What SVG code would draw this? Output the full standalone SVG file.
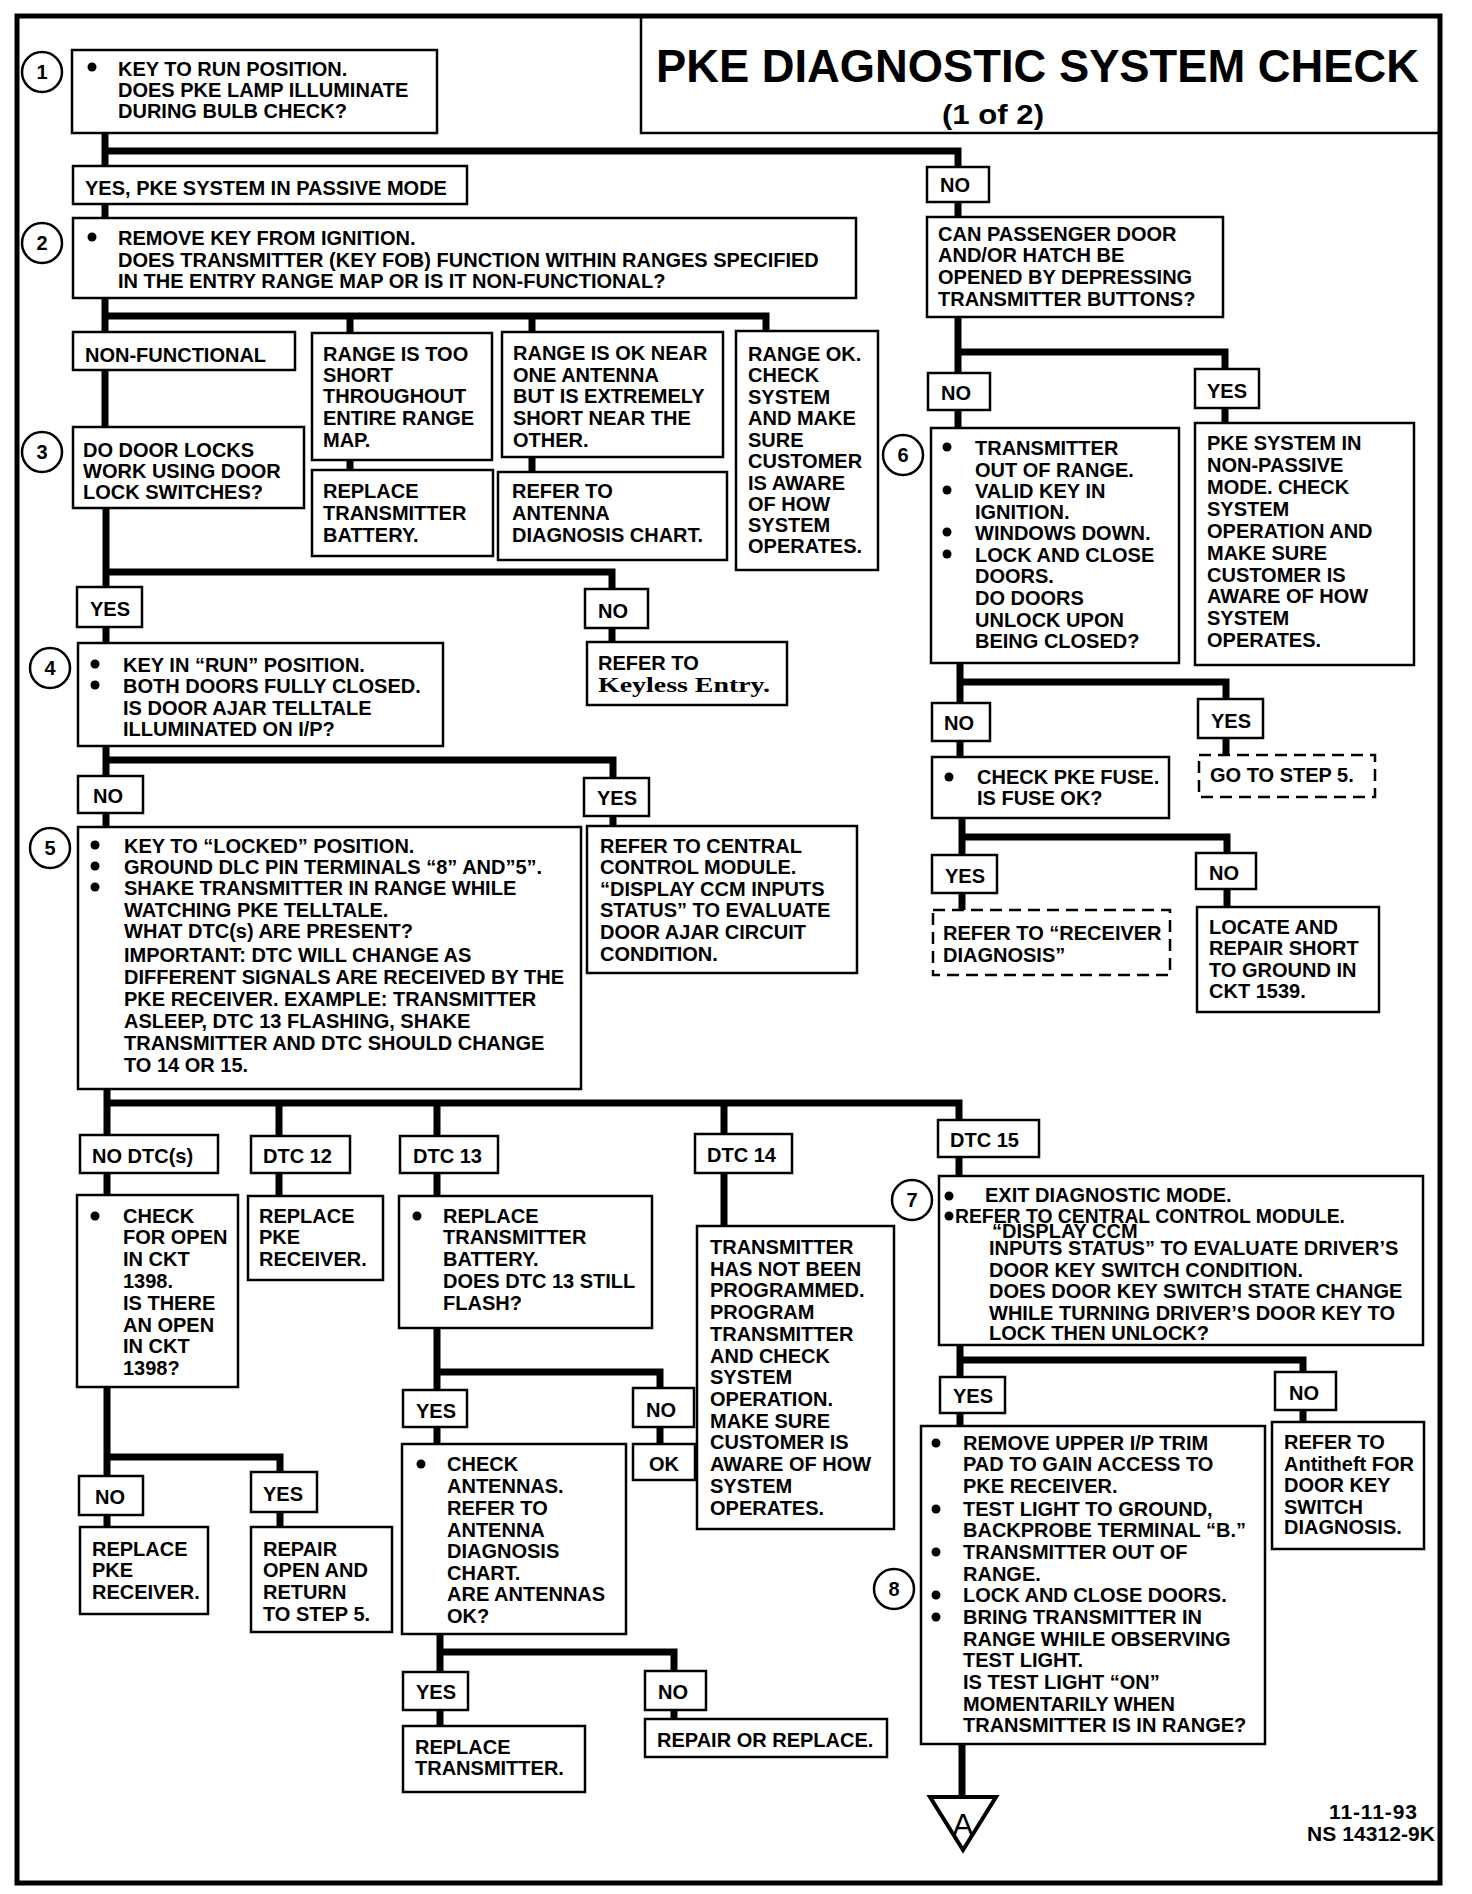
<svg xmlns="http://www.w3.org/2000/svg" width="1472" height="1894" viewBox="0 0 1472 1894">
<style>
.b{fill:#fff;stroke:#000;stroke-width:2.5}
.d{fill:#fff;stroke:#000;stroke-width:2.5;stroke-dasharray:12 7}
.c{fill:none;stroke:#000;stroke-width:7;stroke-linejoin:miter;stroke-linecap:butt}
.t{font-family:"Liberation Sans",Arial,sans-serif;font-weight:bold;font-size:20px;fill:#000}
.s{font-family:"Liberation Serif","Times New Roman",serif;font-weight:bold;font-size:22px;fill:#000}
.n{font-family:"Liberation Sans",Arial,sans-serif;font-weight:bold;font-size:20px;fill:#000;text-anchor:middle}
.o{fill:#fff;stroke:#000;stroke-width:2.5}
.u{fill:#000}
</style>
<rect x="0" y="0" width="1472" height="1894" fill="#fff"/>
<rect x="17" y="16" width="1423" height="1867" fill="none" stroke="#000" stroke-width="5"/>
<g id="title">
<path d="M641,16 V133 H1440" fill="none" stroke="#000" stroke-width="2.5"/>
<text class="t" x="656" y="82" style="font-size:47px" textLength="763" lengthAdjust="spacingAndGlyphs">PKE DIAGNOSTIC SYSTEM CHECK</text>
<text class="t" x="942" y="124" style="font-size:28px" textLength="102" lengthAdjust="spacingAndGlyphs">(1 of 2)</text>
</g>
<g id="connectors">
<path class="c" d="M105,133 V166 M105,151 H958 V167 M105,204 V218 M105,298 V332 M105,316 H766 V331 M350,316 V333 M532,316 V332 M105,370 V427 M350,460 V470 M532,457 V472 M106,508 V587 M106,572 H612 V589 M106,627 V643 M612,628 V642 M106,746 V776 M106,760 H613 V778 M106,813 V827 M613,816 V826 M107,1089 V1135 M107,1103 H959 V1120 M279,1103 V1136 M437,1103 V1136 M724,1103 V1134 M107,1173 V1195 M279,1173 V1196 M437,1173 V1196 M724,1173 V1226 M959,1157 V1176 M107,1387 V1476 M107,1457 H280 V1472 M107,1515 V1527 M280,1512 V1527 M437,1328 V1390 M437,1372 H660 V1388 M437,1427 V1444 M660,1427 V1444 M440,1634 V1672 M440,1652 H674 V1671 M440,1710 V1726 M674,1710 V1719 M960,1345 V1377 M960,1360 H1303 V1372 M960,1413 V1426 M1303,1410 V1422 M962,1744 V1797 M958,202 V217 M958,317 V373 M958,352 H1225 V369 M958,410 V428 M1225,408 V423 M960,663 V703 M960,682 H1226 V699 M960,741 V757 M1226,738 V755 M962,818 V855 M962,837 H1227 V853 M962,893 V910 M1227,889 V907"/>
</g>
<g id="n1"><circle class="o" cx="42" cy="72" r="20"/><text class="n" x="42" y="79">1</text>
<rect class="b" x="72" y="50" width="365" height="83"/><circle class="u" cx="92" cy="67" r="4.5"/>
<text class="t"><tspan x="118" y="76">KEY TO RUN POSITION.</tspan><tspan x="118" y="97">DOES PKE LAMP ILLUMINATE</tspan><tspan x="118" y="118">DURING BULB CHECK?</tspan></text></g>
<g id="yes-passive"><rect class="b" x="73" y="166" width="394" height="38"/><text class="t" x="85" y="195">YES, PKE SYSTEM IN PASSIVE MODE</text></g>
<g id="no1"><rect class="b" x="927" y="167" width="62" height="35"/><text class="t" x="940" y="192">NO</text></g>
<g id="n2"><circle class="o" cx="42" cy="243" r="20"/><text class="n" x="42" y="250">2</text>
<rect class="b" x="73" y="218" width="783" height="80"/><circle class="u" cx="92" cy="237" r="4.5"/>
<text class="t"><tspan x="118" y="245">REMOVE KEY FROM IGNITION.</tspan><tspan x="118" y="267">DOES TRANSMITTER (KEY FOB) FUNCTION WITHIN RANGES SPECIFIED</tspan><tspan x="118" y="288">IN THE ENTRY RANGE MAP OR IS IT NON-FUNCTIONAL?</tspan></text></g>
<g id="can-open"><rect class="b" x="927" y="217" width="296" height="100"/>
<text class="t"><tspan x="938" y="241">CAN PASSENGER DOOR</tspan><tspan x="938" y="262">AND/OR HATCH BE</tspan><tspan x="938" y="284">OPENED BY DEPRESSING</tspan><tspan x="938" y="306">TRANSMITTER BUTTONS?</tspan></text></g>
<g id="non-functional"><rect class="b" x="73" y="332" width="222" height="38"/><text class="t" x="85" y="362">NON-FUNCTIONAL</text></g>
<g id="range-short"><rect class="b" x="312" y="333" width="180" height="127"/>
<text class="t"><tspan x="323" y="361">RANGE IS TOO</tspan><tspan x="323" y="382">SHORT</tspan><tspan x="323" y="403">THROUGHOUT</tspan><tspan x="323" y="425">ENTIRE RANGE</tspan><tspan x="323" y="447">MAP.</tspan></text></g>
<g id="range-near"><rect class="b" x="502" y="332" width="221" height="125"/>
<text class="t"><tspan x="513" y="360">RANGE IS OK NEAR</tspan><tspan x="513" y="382">ONE ANTENNA</tspan><tspan x="513" y="403">BUT IS EXTREMELY</tspan><tspan x="513" y="425">SHORT NEAR THE</tspan><tspan x="513" y="447">OTHER.</tspan></text></g>
<g id="range-ok"><rect class="b" x="736" y="331" width="142" height="239"/>
<text class="t"><tspan x="748" y="361">RANGE OK.</tspan><tspan x="748" y="382">CHECK</tspan><tspan x="748" y="404">SYSTEM</tspan><tspan x="748" y="425">AND MAKE</tspan><tspan x="748" y="447">SURE</tspan><tspan x="748" y="468">CUSTOMER</tspan><tspan x="748" y="490">IS AWARE</tspan><tspan x="748" y="511">OF HOW</tspan><tspan x="748" y="532">SYSTEM</tspan><tspan x="748" y="553">OPERATES.</tspan></text></g>
<g id="no2"><rect class="b" x="928" y="373" width="62" height="37"/><text class="t" x="941" y="400">NO</text></g>
<g id="yes2"><rect class="b" x="1195" y="369" width="64" height="39"/><text class="t" x="1207" y="398">YES</text></g>
<g id="n6"><circle class="o" cx="903" cy="455" r="20"/><text class="n" x="903" y="462">6</text>
<rect class="b" x="931" y="428" width="248" height="235"/>
<circle class="u" cx="947" cy="447" r="4.5"/><circle class="u" cx="947" cy="490" r="4.5"/><circle class="u" cx="947" cy="532" r="4.5"/><circle class="u" cx="947" cy="554" r="4.5"/>
<text class="t"><tspan x="975" y="455">TRANSMITTER</tspan><tspan x="975" y="477">OUT OF RANGE.</tspan><tspan x="975" y="498">VALID KEY IN</tspan><tspan x="975" y="519">IGNITION.</tspan><tspan x="975" y="540">WINDOWS DOWN.</tspan><tspan x="975" y="562">LOCK AND CLOSE</tspan><tspan x="975" y="583">DOORS.</tspan><tspan x="975" y="605">DO DOORS</tspan><tspan x="975" y="627">UNLOCK UPON</tspan><tspan x="975" y="648">BEING CLOSED?</tspan></text></g>
<g id="non-passive"><rect class="b" x="1195" y="423" width="219" height="242"/>
<text class="t"><tspan x="1207" y="450">PKE SYSTEM IN</tspan><tspan x="1207" y="472">NON-PASSIVE</tspan><tspan x="1207" y="494">MODE.  CHECK</tspan><tspan x="1207" y="516">SYSTEM</tspan><tspan x="1207" y="538">OPERATION AND</tspan><tspan x="1207" y="560">MAKE SURE</tspan><tspan x="1207" y="582">CUSTOMER IS</tspan><tspan x="1207" y="603">AWARE OF HOW</tspan><tspan x="1207" y="625">SYSTEM</tspan><tspan x="1207" y="647">OPERATES.</tspan></text></g>
<g id="n3"><circle class="o" cx="42" cy="452" r="20"/><text class="n" x="42" y="459">3</text>
<rect class="b" x="73" y="427" width="231" height="81"/>
<text class="t"><tspan x="83" y="457">DO DOOR LOCKS</tspan><tspan x="83" y="478">WORK USING DOOR</tspan><tspan x="83" y="499">LOCK SWITCHES?</tspan></text></g>
<g id="replace-battery"><rect class="b" x="312" y="470" width="181" height="86"/>
<text class="t"><tspan x="323" y="498">REPLACE</tspan><tspan x="323" y="520">TRANSMITTER</tspan><tspan x="323" y="542">BATTERY.</tspan></text></g>
<g id="antenna-chart"><rect class="b" x="498" y="472" width="229" height="88"/>
<text class="t"><tspan x="512" y="498">REFER TO</tspan><tspan x="512" y="520">ANTENNA</tspan><tspan x="512" y="542">DIAGNOSIS CHART.</tspan></text></g>
<g id="yes3"><rect class="b" x="77" y="587" width="65" height="40"/><text class="t" x="90" y="616">YES</text></g>
<g id="no3"><rect class="b" x="585" y="589" width="63" height="39"/><text class="t" x="598" y="618">NO</text></g>
<g id="keyless"><rect class="b" x="587" y="642" width="200" height="63"/>
<text class="t" x="598" y="670">REFER TO</text><text class="s" x="598" y="692" textLength="172" lengthAdjust="spacingAndGlyphs">Keyless  Entry.</text></g>
<g id="n4"><circle class="o" cx="50" cy="668" r="20"/><text class="n" x="50" y="675">4</text>
<rect class="b" x="78" y="643" width="365" height="103"/>
<circle class="u" cx="95" cy="664" r="4.5"/><circle class="u" cx="95" cy="685" r="4.5"/>
<text class="t"><tspan x="123" y="672">KEY IN “RUN” POSITION.</tspan><tspan x="123" y="693">BOTH DOORS FULLY CLOSED.</tspan><tspan x="123" y="715">IS DOOR AJAR TELLTALE</tspan><tspan x="123" y="736">ILLUMINATED ON I/P?</tspan></text></g>
<g id="no4"><rect class="b" x="78" y="776" width="65" height="37"/><text class="t" x="93" y="803">NO</text></g>
<g id="yes4"><rect class="b" x="584" y="778" width="65" height="38"/><text class="t" x="597" y="805">YES</text></g>
<g id="ccm"><rect class="b" x="587" y="826" width="270" height="147"/>
<text class="t"><tspan x="600" y="853">REFER TO CENTRAL</tspan><tspan x="600" y="874">CONTROL MODULE.</tspan><tspan x="600" y="896">“DISPLAY CCM INPUTS</tspan><tspan x="600" y="917">STATUS” TO EVALUATE</tspan><tspan x="600" y="939">DOOR AJAR CIRCUIT</tspan><tspan x="600" y="961">CONDITION.</tspan></text></g>
<g id="n5"><circle class="o" cx="50" cy="848" r="20"/><text class="n" x="50" y="855">5</text>
<rect class="b" x="78" y="827" width="503" height="262"/>
<circle class="u" cx="95" cy="845" r="4.5"/><circle class="u" cx="95" cy="866" r="4.5"/><circle class="u" cx="95" cy="887" r="4.5"/>
<text class="t"><tspan x="124" y="853">KEY TO “LOCKED” POSITION.</tspan><tspan x="124" y="874">GROUND DLC PIN TERMINALS “8” AND”5”.</tspan><tspan x="124" y="895">SHAKE TRANSMITTER IN RANGE WHILE</tspan><tspan x="124" y="917">WATCHING PKE TELLTALE.</tspan><tspan x="124" y="938">WHAT DTC(s) ARE PRESENT?</tspan><tspan x="124" y="962">IMPORTANT:  DTC WILL CHANGE AS</tspan><tspan x="124" y="984">DIFFERENT SIGNALS ARE RECEIVED BY THE</tspan><tspan x="124" y="1006">PKE RECEIVER.  EXAMPLE:  TRANSMITTER</tspan><tspan x="124" y="1028">ASLEEP, DTC 13 FLASHING, SHAKE</tspan><tspan x="124" y="1050">TRANSMITTER AND DTC SHOULD CHANGE</tspan><tspan x="124" y="1072">TO 14 OR 15.</tspan></text></g>
<g id="no-dtc"><rect class="b" x="80" y="1135" width="138" height="38"/><text class="t" x="92" y="1163">NO DTC(s)</text></g>
<g id="dtc12"><rect class="b" x="251" y="1136" width="99" height="37"/><text class="t" x="263" y="1163">DTC 12</text></g>
<g id="dtc13"><rect class="b" x="400" y="1136" width="98" height="37"/><text class="t" x="413" y="1163">DTC 13</text></g>
<g id="dtc14"><rect class="b" x="695" y="1134" width="97" height="39"/><text class="t" x="707" y="1162">DTC 14</text></g>
<g id="dtc15"><rect class="b" x="938" y="1120" width="101" height="37"/><text class="t" x="950" y="1147">DTC 15</text></g>
<g id="check-open"><rect class="b" x="77" y="1195" width="161" height="192"/><circle class="u" cx="95" cy="1216" r="4.5"/>
<text class="t"><tspan x="123" y="1223">CHECK</tspan><tspan x="123" y="1244">FOR OPEN</tspan><tspan x="123" y="1266">IN CKT</tspan><tspan x="123" y="1288">1398.</tspan><tspan x="123" y="1310">IS THERE</tspan><tspan x="123" y="1332">AN OPEN</tspan><tspan x="123" y="1353">IN CKT</tspan><tspan x="123" y="1375">1398?</tspan></text></g>
<g id="replace-receiver"><rect class="b" x="248" y="1196" width="135" height="84"/>
<text class="t"><tspan x="259" y="1223">REPLACE</tspan><tspan x="259" y="1244">PKE</tspan><tspan x="259" y="1266">RECEIVER.</tspan></text></g>
<g id="replace-battery2"><rect class="b" x="399" y="1196" width="253" height="132"/><circle class="u" cx="417" cy="1216" r="4.5"/>
<text class="t"><tspan x="443" y="1223">REPLACE</tspan><tspan x="443" y="1244">TRANSMITTER</tspan><tspan x="443" y="1266">BATTERY.</tspan><tspan x="443" y="1288">DOES DTC 13 STILL</tspan><tspan x="443" y="1310">FLASH?</tspan></text></g>
<g id="not-programmed"><rect class="b" x="697" y="1226" width="197" height="303"/>
<text class="t"><tspan x="710" y="1254">TRANSMITTER</tspan><tspan x="710" y="1276">HAS NOT BEEN</tspan><tspan x="710" y="1297">PROGRAMMED.</tspan><tspan x="710" y="1319">PROGRAM</tspan><tspan x="710" y="1341">TRANSMITTER</tspan><tspan x="710" y="1363">AND CHECK</tspan><tspan x="710" y="1384">SYSTEM</tspan><tspan x="710" y="1406">OPERATION.</tspan><tspan x="710" y="1428">MAKE SURE</tspan><tspan x="710" y="1449">CUSTOMER IS</tspan><tspan x="710" y="1471">AWARE OF HOW</tspan><tspan x="710" y="1493">SYSTEM</tspan><tspan x="710" y="1515">OPERATES.</tspan></text></g>
<g id="n7"><circle class="o" cx="912" cy="1200" r="20"/><text class="n" x="912" y="1207">7</text>
<rect class="b" x="939" y="1176" width="484" height="169"/>
<circle class="u" cx="949" cy="1196" r="4.5"/><circle class="u" cx="949" cy="1216" r="4.5"/>
<text class="t"><tspan x="985" y="1202">EXIT DIAGNOSTIC MODE.</tspan></text>
<text class="t" x="955" y="1223" textLength="390" lengthAdjust="spacingAndGlyphs">REFER TO CENTRAL CONTROL MODULE.</text>
<text class="t"><tspan x="992" y="1238">“DISPLAY CCM</tspan><tspan x="989" y="1255">INPUTS STATUS” TO EVALUATE DRIVER’S</tspan><tspan x="989" y="1277">DOOR KEY SWITCH CONDITION.</tspan><tspan x="989" y="1298">DOES DOOR KEY SWITCH STATE CHANGE</tspan><tspan x="989" y="1320">WHILE TURNING DRIVER’S DOOR KEY TO</tspan><tspan x="989" y="1340">LOCK THEN UNLOCK?</tspan></text></g>
<g id="yes7"><rect class="b" x="940" y="1377" width="65" height="36"/><text class="t" x="953" y="1403">YES</text></g>
<g id="no7"><rect class="b" x="1275" y="1372" width="61" height="38"/><text class="t" x="1289" y="1400">NO</text></g>
<g id="antitheft"><rect class="b" x="1272" y="1422" width="152" height="127"/>
<text class="t"><tspan x="1284" y="1449">REFER TO</tspan><tspan x="1284" y="1471">Antitheft  FOR</tspan><tspan x="1284" y="1492">DOOR KEY</tspan><tspan x="1284" y="1514">SWITCH</tspan><tspan x="1284" y="1534">DIAGNOSIS.</tspan></text></g>
<g id="n8"><circle class="o" cx="894" cy="1589" r="20"/><text class="n" x="894" y="1596">8</text>
<rect class="b" x="921" y="1426" width="344" height="318"/>
<circle class="u" cx="936" cy="1443" r="4.5"/><circle class="u" cx="936" cy="1509" r="4.5"/><circle class="u" cx="936" cy="1552" r="4.5"/><circle class="u" cx="936" cy="1595" r="4.5"/><circle class="u" cx="936" cy="1617" r="4.5"/>
<text class="t"><tspan x="963" y="1450">REMOVE UPPER I/P TRIM</tspan><tspan x="963" y="1471">PAD TO GAIN ACCESS TO</tspan><tspan x="963" y="1493">PKE RECEIVER.</tspan><tspan x="963" y="1516">TEST LIGHT TO GROUND,</tspan><tspan x="963" y="1537">BACKPROBE TERMINAL “B.”</tspan><tspan x="963" y="1559">TRANSMITTER OUT OF</tspan><tspan x="963" y="1581">RANGE.</tspan><tspan x="963" y="1602">LOCK AND CLOSE DOORS.</tspan><tspan x="963" y="1624">BRING TRANSMITTER IN</tspan><tspan x="963" y="1646">RANGE WHILE OBSERVING</tspan><tspan x="963" y="1667">TEST LIGHT.</tspan><tspan x="963" y="1689">IS TEST LIGHT “ON”</tspan><tspan x="963" y="1711">MOMENTARILY WHEN</tspan><tspan x="963" y="1732">TRANSMITTER IS IN RANGE?</tspan></text></g>
<g id="yes13"><rect class="b" x="403" y="1390" width="64" height="37"/><text class="t" x="416" y="1418">YES</text></g>
<g id="no13"><rect class="b" x="633" y="1388" width="61" height="39"/><text class="t" x="646" y="1417">NO</text></g>
<g id="ok"><rect class="b" x="633" y="1444" width="62" height="36"/><text class="t" x="649" y="1471">OK</text></g>
<g id="antennas"><rect class="b" x="402" y="1444" width="224" height="190"/><circle class="u" cx="421" cy="1464" r="4.5"/>
<text class="t"><tspan x="447" y="1471">CHECK</tspan><tspan x="447" y="1493">ANTENNAS.</tspan><tspan x="447" y="1515">REFER TO</tspan><tspan x="447" y="1537">ANTENNA</tspan><tspan x="447" y="1558">DIAGNOSIS</tspan><tspan x="447" y="1580">CHART.</tspan><tspan x="447" y="1601">ARE ANTENNAS</tspan><tspan x="447" y="1623">OK?</tspan></text></g>
<g id="yes-ant"><rect class="b" x="403" y="1672" width="65" height="38"/><text class="t" x="416" y="1699">YES</text></g>
<g id="no-ant"><rect class="b" x="645" y="1671" width="61" height="39"/><text class="t" x="658" y="1699">NO</text></g>
<g id="replace-transmitter"><rect class="b" x="403" y="1726" width="182" height="66"/>
<text class="t"><tspan x="415" y="1754">REPLACE</tspan><tspan x="415" y="1775">TRANSMITTER.</tspan></text></g>
<g id="repair-replace"><rect class="b" x="645" y="1719" width="242" height="38"/><text class="t" x="657" y="1747">REPAIR OR REPLACE.</text></g>
<g id="no-open"><rect class="b" x="79" y="1476" width="64" height="39"/><text class="t" x="95" y="1504">NO</text></g>
<g id="yes-open"><rect class="b" x="251" y="1472" width="66" height="40"/><text class="t" x="263" y="1501">YES</text></g>
<g id="replace-receiver2"><rect class="b" x="80" y="1527" width="128" height="87"/>
<text class="t"><tspan x="92" y="1556">REPLACE</tspan><tspan x="92" y="1577">PKE</tspan><tspan x="92" y="1599">RECEIVER.</tspan></text></g>
<g id="repair-open"><rect class="b" x="251" y="1527" width="141" height="105"/>
<text class="t"><tspan x="263" y="1556">REPAIR</tspan><tspan x="263" y="1577">OPEN AND</tspan><tspan x="263" y="1599">RETURN</tspan><tspan x="263" y="1621">TO STEP 5.</tspan></text></g>
<g id="no6"><rect class="b" x="932" y="703" width="58" height="38"/><text class="t" x="944" y="730">NO</text></g>
<g id="yes6"><rect class="b" x="1198" y="699" width="65" height="39"/><text class="t" x="1211" y="728">YES</text></g>
<g id="goto5"><rect class="d" x="1199" y="755" width="176" height="42"/><text class="t" x="1210" y="782">GO TO STEP 5.</text></g>
<g id="fuse"><rect class="b" x="932" y="757" width="237" height="61"/><circle class="u" cx="949" cy="777" r="4.5"/>
<text class="t"><tspan x="977" y="784">CHECK PKE FUSE.</tspan><tspan x="977" y="805">IS FUSE OK?</tspan></text></g>
<g id="yes-fuse"><rect class="b" x="932" y="855" width="65" height="38"/><text class="t" x="945" y="883">YES</text></g>
<g id="no-fuse"><rect class="b" x="1196" y="853" width="60" height="36"/><text class="t" x="1209" y="880">NO</text></g>
<g id="receiver"><rect class="d" x="933" y="910" width="237" height="65"/>
<text class="t"><tspan x="943" y="940">REFER TO “RECEIVER</tspan><tspan x="943" y="962">DIAGNOSIS”</tspan></text></g>
<g id="locate"><rect class="b" x="1197" y="907" width="182" height="105"/>
<text class="t"><tspan x="1209" y="934">LOCATE  AND</tspan><tspan x="1209" y="955">REPAIR SHORT</tspan><tspan x="1209" y="977">TO GROUND IN</tspan><tspan x="1209" y="998">CKT 1539.</tspan></text></g>
<g id="offpage-a"><polygon points="930,1797 996,1797 963,1850" fill="#fff" stroke="#000" stroke-width="4"/>
<text x="963" y="1836" text-anchor="middle" style="font-family:'Liberation Sans',Arial,sans-serif;font-size:32px;fill:#000">A</text></g>
<g id="footer"><text class="t" x="1329" y="1819" style="font-size:21px" textLength="88" lengthAdjust="spacing">11-11-93</text>
<text class="t" x="1307" y="1841" style="font-size:21px" textLength="128" lengthAdjust="spacing">NS 14312-9K</text></g>
</svg>
